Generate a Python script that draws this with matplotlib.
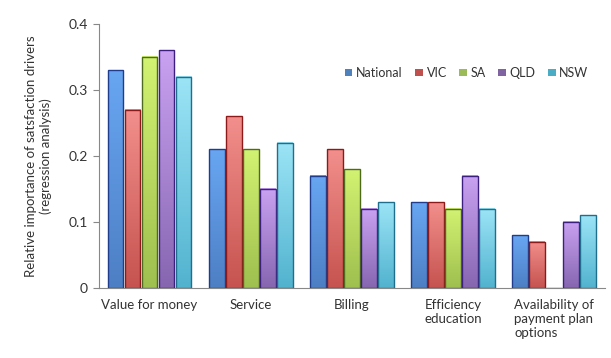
import matplotlib
matplotlib.use("Agg")
import matplotlib.pyplot as plt
import numpy as np
from matplotlib.colors import LinearSegmentedColormap

categories = ["Value for money", "Service", "Billing", "Efficiency\neducation",
              "Availability of\npayment plan\noptions"]
series = ["National", "VIC", "SA", "QLD", "NSW"]
national = [0.33, 0.21, 0.17, 0.13, 0.08]
vic = [0.27, 0.26, 0.21, 0.13, 0.07]
sa = [0.35, 0.21, 0.18, 0.12, 0.0]
qld = [0.36, 0.15, 0.12, 0.17, 0.10]
nsw = [0.32, 0.22, 0.13, 0.12, 0.11]
values = [national, vic, sa, qld, nsw]

tops = ["#68a6f2", "#f28f8c", "#d2f272", "#c9a2f2", "#9ce4f6"]
bottoms = ["#4d7fc4", "#c6534f", "#9fbf4f", "#8766b0", "#52b3cf"]
legend_cols = ["#4f81bd", "#c0504d", "#9bbb59", "#8064a2", "#4bacc6"]
edges = ["#1f3d8c", "#8c1a1a", "#4d6a1e", "#3d1f80", "#1f6e8c"]

plt.rcParams['font.family'] = ['Lato', 'DejaVu Sans']
fig = plt.figure(figsize=(6.11, 3.58), dpi=100)
ax = fig.add_axes([0.162, 0.1955, 0.828, 0.7375])

x = np.arange(len(categories))
step = 0.168
width = 0.155
for i, (name, vals) in enumerate(zip(series, values)):
    pos = x + (i - 2) * step
    bars = ax.bar(pos, vals, width, facecolor="none", edgecolor=edges[i],
                  linewidth=1.0, zorder=3)
    cmap = LinearSegmentedColormap.from_list(name, [bottoms[i], tops[i]])
    grad = np.linspace(0, 1, 100).reshape(-1, 1)
    for b, v in zip(bars, vals):
        if v <= 0:
            continue
        x0, w = b.get_x(), b.get_width()
        ax.imshow(grad, extent=[x0, x0 + w, 0, v], origin="lower", cmap=cmap,
                  aspect="auto", zorder=2)
    ax.bar([0], [0], color=legend_cols[i], label=name)

ax.set_xlim(-0.5, len(categories) - 0.5)
ax.set_ylim(0, 0.4)
ax.set_yticks([0, 0.1, 0.2, 0.3, 0.4])
ax.set_yticklabels(["0", "0.1", "0.2", "0.3", "0.4"])
ax.set_xticks(x)
ax.set_xticklabels(categories, multialignment="left", va="top")
ax.tick_params(axis="x", length=0, pad=8, labelsize=9.5, colors="#333333")
ax.tick_params(axis="y", length=4, direction="out", labelsize=10, colors="#333333",
               color="#888888", pad=4)
for s in ["top", "right"]:
    ax.spines[s].set_visible(False)
ax.spines["left"].set_color("#888888")
ax.spines["bottom"].set_color("#888888")
ax.set_ylabel("Relative importance of satsfaction drivers\n(regression analysis)",
              fontsize=9.5, color="#333333", labelpad=12)

ax.legend(loc="upper right", bbox_to_anchor=(0.99, 0.88), ncol=5, frameon=False,
          fontsize=9, handlelength=0.6, handleheight=0.6, handletextpad=0.3,
          columnspacing=1.0, labelcolor="#333333")

fig.savefig("out.png", dpi=100)
